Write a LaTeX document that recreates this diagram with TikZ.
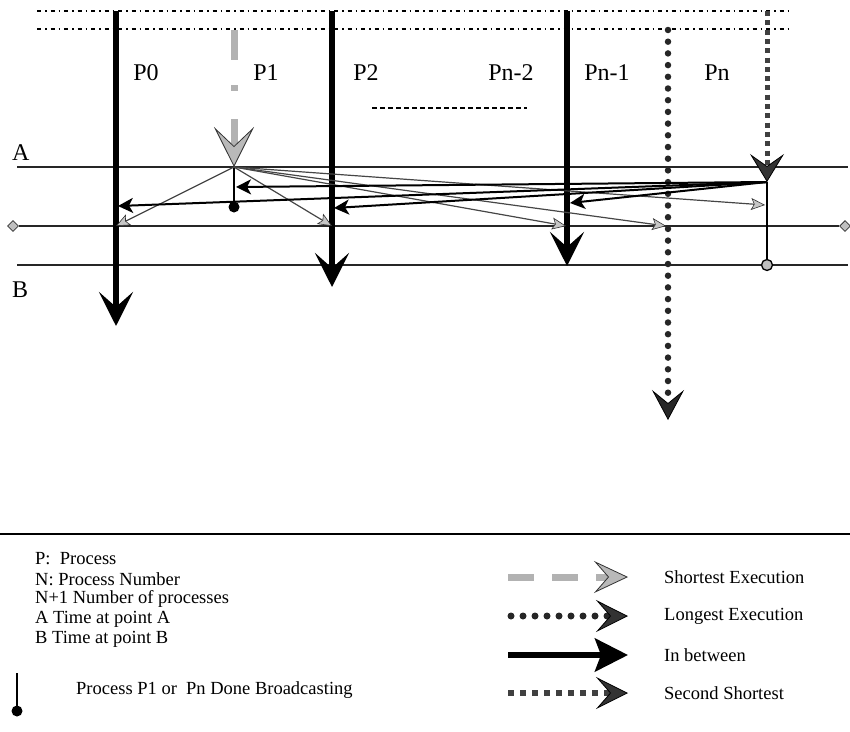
\documentclass[tikz,border=0pt]{standalone}
\usepackage{fontspec}
\setmainfont{Liberation Serif}
\usetikzlibrary{arrows.meta,shapes.geometric}
\tikzset{
  biglbl/.style={font=\fontsize{24}{28}\selectfont, inner sep=0pt},
  leglbl/.style={font=\fontsize{18.5}{22}\selectfont, inner sep=0pt, anchor=west},
  topline/.style={line width=2pt, dash pattern=on 4pt off 4pt on 1.5pt off 4pt},
  hline/.style={line width=1.5pt, black!85},
  procline/.style={line width=5.5pt, -{Stealth[length=34pt,width=34pt,inset=15pt]}},
  shortest/.style={line width=7pt, gray!60, dash pattern=on 30pt off 25pt on 6pt off 28pt,
     -{Stealth[length=40pt,width=40pt,inset=19pt,fill=gray!55,color=black!80,line width=0.8pt]}},
  longest/.style={line width=6.5pt, black!85, line cap=round, dash pattern=on 0pt off 11.7pt,
     -{Stealth[length=30pt,width=32pt,inset=13pt,fill=black!85,color=black,line width=0.8pt]}},
  second/.style={line width=5pt, black!75, dash pattern=on 5pt off 4.3pt,
     -{Stealth[length=28pt,width=34pt,inset=12pt,fill=black!80,color=black,line width=0.8pt]}},
  grayarr/.style={line width=1.2pt, gray!55!black,
     -{Stealth[length=14pt,width=12pt,inset=3pt,fill=gray!45,color=gray!40!black,line width=0.6pt]}},
  blackarr/.style={line width=2pt, black,
     -{Stealth[length=15pt,width=15pt,inset=4pt]}},
  diam/.style={draw=black!80, fill=gray!50, diamond, minimum size=11pt, inner sep=0pt, line width=0.8pt},
}
\begin{document}
\begin{tikzpicture}[x=1pt,y=-1pt]
\useasboundingbox (0,0) rectangle (850,731);
% top dotted lines
\coordinate (t1l) at (37,11); \coordinate (t1r) at (790,11);
\coordinate (t2l) at (37,29); \coordinate (t2r) at (790,29);
\draw[topline] (t1l) -- (t1r);
\draw[topline] (t2l) -- (t2r);
% horizontal reference lines
\coordinate (Al) at (17,167); \coordinate (Ar) at (848,167);
\coordinate (Bl) at (17,265); \coordinate (Br) at (848,265);
\draw[hline] (Al) -- (Ar);
\draw[hline] (Bl) -- (Br);
\node[diam] (dl) at (13,226) {};
\node[diam] (dr) at (845,226) {};
\draw[hline, line width=1.3pt] (dl) -- (dr);
\node[biglbl, anchor=west] (lA) at (12,153) {A};
\node[biglbl, anchor=west] (lB) at (12,290) {B};
% process lines
\coordinate (p0t) at (116,11); \coordinate (p0b) at (116,326);
\coordinate (p2t) at (332,11); \coordinate (p2b) at (332,287);
\coordinate (pm1t) at (567,11); \coordinate (pm1b) at (567,266);
\draw[procline] (p0t) -- (p0b);
\draw[procline] (p2t) -- (p2b);
\draw[procline] (pm1t) -- (pm1b);
% P1 shortest
\coordinate (p1t) at (234,30); \coordinate (p1a) at (234,167);
\draw[shortest] (p1t) -- (p1a);
% longest
\coordinate (lt) at (668,30); \coordinate (lb) at (668,420);
\draw[longest] (lt) -- (lb);
% Pn second shortest
\coordinate (pnt) at (767,11); \coordinate (pna) at (767,182);
\draw[second] (pnt) -- (pna);
% labels
\node[biglbl] (L0) at (146,73) {P0};
\node[biglbl] (L1) at (266,73) {P1};
\node[biglbl] (L2) at (366,73) {P2};
\node[biglbl] (Ln2) at (511,73) {Pn-2};
\node[biglbl] (Ln1) at (607,73) {Pn-1};
\node[biglbl] (Ln) at (717,73) {Pn};
\coordinate (dsl) at (372,108); \coordinate (dsr) at (527,108);
\draw[line width=1.3pt, dash pattern=on 5pt off 3pt] (dsl) -- (dsr);
% P1 done broadcasting stem
\coordinate (p1ball) at (234,207);
\draw[line width=2.5pt] (p1a) -- (p1ball);
\fill (p1ball) circle (5.5pt);
% Pn stem
\coordinate (pnball) at (767,265);
\draw[line width=2.5pt] (pna) -- (pnball);
\draw[fill=gray!50, line width=1.3pt] (pnball) circle (5.5pt);
% gray fan arrows from P1
\coordinate (g0) at (116,226);
\coordinate (g2) at (332,226);
\coordinate (gm1) at (566,226);
\coordinate (gl) at (666,226);
\coordinate (gn) at (765,205);
\draw[grayarr] (p1a) -- (g0);
\draw[grayarr] (p1a) -- (g2);
\draw[grayarr] (p1a) -- (gm1);
\draw[grayarr] (p1a) -- (gl);
\draw[grayarr] (p1a) -- (gn);
% black arrows from Pn
\coordinate (b1) at (236,187);
\coordinate (b0) at (118,206);
\coordinate (b2) at (334,208);
\coordinate (bm1) at (570,203);
\draw[blackarr] (pna) -- (b1);
\draw[blackarr] (pna) -- (b0);
\draw[blackarr] (pna) -- (b2);
\draw[blackarr] (pna) -- (bm1);
% separator
\coordinate (sl) at (0,534); \coordinate (sr) at (850,534);
\draw[line width=2pt] (sl) -- (sr);
% legend left
\node[leglbl] (e1) at (35,559) {P:\ \ Process};
\node[leglbl] (e2) at (35,579) {N: Process Number};
\node[leglbl] (e3) at (35,599) {N+1 Number of processes};
\node[leglbl] (e4) at (35,619) {A Time at point A};
\node[leglbl] (e5) at (35,639) {B Time at point B};
\coordinate (mt) at (17,673); \coordinate (mb) at (17,711);
\draw[line width=2.5pt] (mt) -- (mb);
\fill (mb) circle (5.5pt);
\node[leglbl] (e6) at (76,690) {Process P1 or\ \ Pn Done Broadcasting};
% legend right
\coordinate (s1a) at (508,577); \coordinate (s1b) at (628,577);
\draw[line width=7pt, gray!60, dash pattern=on 26pt off 18pt,
  -{Stealth[length=34pt,width=32pt,inset=14pt,fill=gray!55,color=black!80,line width=0.8pt]}] (s1a) -- (s1b);
\node[leglbl] (r1) at (664,577) {Shortest Execution};
\coordinate (s2a) at (511,616); \coordinate (s2b) at (628,616);
\draw[line width=7pt, black!85, line cap=round, dash pattern=on 0pt off 12pt,
  -{Stealth[length=32pt,width=32pt,inset=14pt,fill=black!80,color=black,line width=0.8pt]}] (s2a) -- (s2b);
\node[leglbl] (r2) at (664,616) {Longest Execution};
\coordinate (s3a) at (508,655); \coordinate (s3b) at (628,655);
\draw[line width=6pt, -{Stealth[length=33pt,width=33pt,inset=6pt]}] (s3a) -- (s3b);
\node[leglbl] (r3) at (664,655) {In between};
\coordinate (s4a) at (508,693); \coordinate (s4b) at (628,693);
\draw[line width=6pt, black!75, dash pattern=on 6pt off 6pt,
  -{Stealth[length=32pt,width=32pt,inset=14pt,fill=black!80,color=black,line width=0.8pt]}] (s4a) -- (s4b);
\node[leglbl] (r4) at (664,693) {Second Shortest};
\end{tikzpicture}
\end{document}
